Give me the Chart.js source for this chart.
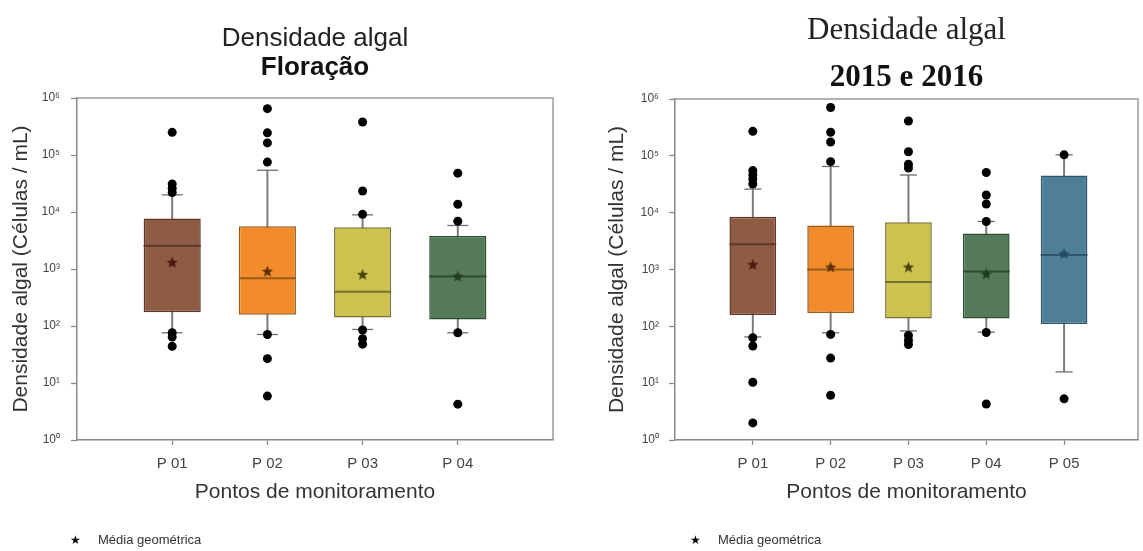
<!DOCTYPE html>
<html>
<head>
<meta charset="utf-8">
<script src="https://cdn.jsdelivr.net/npm/chart.js@4.4.0/dist/chart.umd.min.js"></script>
<style>
body{margin:0;background:#fff;width:1143px;height:551px;position:relative;overflow:hidden;font-family:'Liberation Sans',Arial,sans-serif;}
canvas{position:absolute;top:0;}
#grafFloracao{left:0;}
#grafAnual{left:570px;}
.leyenda{position:absolute;top:532px;font-size:13px;color:#333;white-space:nowrap;}
.leyenda b{display:inline-block;width:28px;font-size:12px;color:#000;font-weight:normal;}
</style>
</head>
<body>
<canvas id="grafFloracao" width="560" height="551"></canvas>
<canvas id="grafAnual" width="573" height="551"></canvas>
<div class="leyenda" style="left:70px"><b>★</b>Média geométrica</div>
<div class="leyenda" style="left:690px"><b>★</b>Média geométrica</div>
<script>
// Floração
var pontosFlor = ['P 01', 'P 02', 'P 03', 'P 04'];
var q1Flor = [175, 157, 141, 130];
var q3Flor = [7700, 5600, 5400, 3800];
var medFlor = [2560, 690, 400, 735];
var bigodeMinFlor = [76, 71, 87, 76];
var bigodeMaxFlor = [20000, 54000, 8900, 5800];
var geoFlor = [1310, 910, 800, 745];
var atipicosFlor = [
  [250000, 31000, 26000, 22000, 76, 64, 44],
  [650000, 245000, 163000, 75000, 71, 26.7, 5.9],
  [380000, 23400, 9100, 85, 60, 48],
  [48000, 13700, 6900, 76, 4.25]
];

// 2015 e 2016
var pontosAnual = ['P 01', 'P 02', 'P 03', 'P 04', 'P 05'];
var q1Anual = [158, 172, 138, 138, 110];
var q3Anual = [8500, 5970, 6800, 4300, 45000];
var medAnual = [2770, 1000, 605, 922, 1800];
var bigodeMinAnual = [65, 77, 83, 79, 15.8];
var bigodeMaxAnual = [26000, 65000, 46000, 7000, 104000];
var geoAnual = [1220, 1100, 1100, 835, 1900];
var atipicosAnual = [
  [270000, 55000, 46000, 39000, 32000, 63, 45, 10.4, 2.0],
  [710000, 260000, 175000, 79000, 72, 27.6, 6.1],
  [410000, 118000, 71000, 61000, 69, 57, 48],
  [51000, 20500, 14200, 7000, 78, 4.3],
  [104000, 5.3]
];

var potencias = [1, 10, 100, 1000, 10000, 100000, 1000000];
var sobrescritos = ['⁰', '¹', '²', '³', '⁴', '⁵', '⁶'];

var coresCaixa = ['#8e5b45', '#f28c2b', '#cdc24f', '#547a57', '#4f7f97'];
var coresBorda = ['#5e3728', '#9a5a1a', '#77712c', '#2f4c33', '#2f5568'];
var coresEstrela = ['#4a1a0e', '#5e3208', '#4e4610', '#1f3a22', '#234a66'];

var fonteSans = "'Liberation Sans', Arial, sans-serif";
var fonteSerif = "'Liberation Serif', 'Times New Roman', serif";

// estrela cheia de 5 pontas para a média geométrica
function criarEstrela(cor){
  var c = document.createElement('canvas');
  c.width = 13; c.height = 13;
  var g = c.getContext('2d');
  g.fillStyle = cor;
  g.beginPath();
  for (var i = 0; i < 10; i++) {
    var r = (i % 2 == 0) ? 6 : 2.6;
    var a = -Math.PI / 2 + i * Math.PI / 5;
    var px = 6.5 + Math.cos(a) * r, py = 6.8 + Math.sin(a) * r;
    if (i == 0) g.moveTo(px, py); else g.lineTo(px, py);
  }
  g.closePath();
  g.fill();
  return c;
}

// metade de uma largura em unidades do eixo x, em pixels
function meiaLargura(ctx, unidades){
  var x = ctx.chart.scales.x;
  return x.getPixelForValue(unidades) - x.getPixelForValue(0);
}

var marcoPlugin = {
  id: 'marco',
  afterDatasetsDraw: function(chart){
    var a = chart.chartArea, ctx = chart.ctx;
    ctx.save();
    ctx.strokeStyle = '#9a9a9a';
    ctx.lineWidth = 1.5;
    ctx.beginPath();
    ctx.moveTo(a.left, a.top);
    ctx.lineTo(a.right, a.top);
    ctx.lineTo(a.right, a.bottom);
    ctx.stroke();
    ctx.restore();
  }
};

function GraficoBoxplot(id, pontos, q1, q3, med, bMin, bMax, geo, atipicos, cfg){
  var n = pontos.length;
  var caixas = [], bigodes = [], tampas = [], medianas = [], medias = [], pontosAtip = [];
  for (var i = 0; i < n; i++) {
    caixas.push({x: i + 1, y: [q1[i], q3[i]]});
    bigodes.push({x: i + 1, y: [bMin[i], bMax[i]]});
    tampas.push({x: i + 1, y: bMin[i]});
    tampas.push({x: i + 1, y: bMax[i]});
    medianas.push({x: i + 1, y: med[i]});
    medias.push({x: i + 1, y: geo[i]});
    atipicos[i].forEach(function(v){ pontosAtip.push({x: i + 1, y: v}); });
  }

  var ctx = document.getElementById(id).getContext('2d');
  return new Chart(ctx, {
    type: 'bar',
    data: {
      datasets: [
        {
          label: 'bigodes', data: bigodes, backgroundColor: '#7a7a7a',
          barThickness: 1.3, grouped: false, order: 5
        },
        {
          label: 'caixas', data: caixas,
          backgroundColor: coresCaixa.slice(0, n), borderColor: coresBorda.slice(0, n),
          borderWidth: 1.5, borderSkipped: false,
          barPercentage: 0.6, categoryPercentage: 1, grouped: false, order: 4
        },
        {
          type: 'scatter', label: 'tampas', data: tampas,
          pointStyle: 'line', borderColor: '#6e6e6e', borderWidth: 1.3,
          radius: function(c){ return meiaLargura(c, 0.11); }, order: 3
        },
        {
          type: 'scatter', label: 'medianas', data: medianas,
          pointStyle: 'line', borderColor: coresBorda.slice(0, n), borderWidth: 2,
          radius: function(c){ return meiaLargura(c, 0.3); }, order: 2
        },
        {
          type: 'scatter', label: 'Média geométrica', data: medias,
          pointStyle: coresEstrela.slice(0, n).map(criarEstrela), order: 1
        },
        {
          type: 'scatter', label: 'atípicos', data: pontosAtip,
          pointStyle: 'circle', radius: 4.5, backgroundColor: '#000', borderWidth: 0, order: 0
        }
      ]
    },
    options: {
      responsive: false,
      animation: false,
      events: [],
      layout: {padding: cfg.padding},
      plugins: {
        legend: {display: false},
        tooltip: {enabled: false},
        title: {
          display: true, text: cfg.titulo, fullSize: false, color: '#222',
          font: {family: cfg.fonteTitulo, size: cfg.tamTitulo, weight: 'normal', lineHeight: 1},
          padding: cfg.padTitulo
        },
        subtitle: {
          display: true, text: cfg.subtitulo, fullSize: false, color: '#111',
          font: {family: cfg.fonteTitulo, size: cfg.tamTitulo, weight: 'bold', lineHeight: 1},
          padding: cfg.padSubtitulo
        }
      },
      scales: {
        x: {
          type: 'linear', min: 0, max: cfg.xMax, offset: false,
          afterBuildTicks: function(s){ s.ticks = pontos.map(function(p, i){ return {value: i + 1}; }); },
          afterFit: function(s){ s.height = 65; },
          ticks: {
            color: '#444', padding: 10, font: {family: fonteSans, size: 15},
            callback: function(v){ return pontos[v - 1]; }
          },
          grid: {offset: false, drawOnChartArea: false, tickLength: 5, color: '#8a8a8a', tickWidth: 1.3},
          border: {display: true, color: '#8a8a8a', width: 1.5},
          title: {
            display: true, text: 'Pontos de monitoramento', color: '#333',
            font: {family: fonteSans, size: 21, lineHeight: 1.2}, padding: 0
          }
        },
        y: {
          type: 'logarithmic', min: 1, max: 1000000,
          afterBuildTicks: function(s){ s.ticks = potencias.map(function(v){ return {value: v}; }); },
          afterFit: function(s){ s.width = cfg.largY; },
          ticks: {
            color: '#444', padding: cfg.padTickY, font: {family: fonteSans, size: 12},
            callback: function(v){ return '10' + sobrescritos[Math.round(Math.log10(v))]; }
          },
          grid: {drawOnChartArea: false, tickLength: 6, color: '#8a8a8a', tickWidth: 1.3},
          border: {display: true, color: '#8a8a8a', width: 1.5},
          title: {
            display: true, text: 'Densidade algal (Células / mL)', color: '#333',
            font: {family: fonteSans, size: 21, lineHeight: 1.2}, padding: 0
          }
        }
      }
    },
    plugins: [marcoPlugin]
  });
}

GraficoBoxplot('grafFloracao', pontosFlor, q1Flor, q3Flor, medFlor, bigodeMinFlor, bigodeMaxFlor, geoFlor, atipicosFlor, {
  titulo: 'Densidade algal', subtitulo: 'Floração', fonteTitulo: fonteSans, tamTitulo: 26,
  padTitulo: {top: 26, bottom: 0}, padSubtitulo: {top: 3, bottom: 17},
  padding: {left: 9, right: 7, top: 0, bottom: 46}, largY: 68, padTickY: 11, xMax: 5
});

GraficoBoxplot('grafAnual', pontosAnual, q1Anual, q3Anual, medAnual, bigodeMinAnual, bigodeMaxAnual, geoAnual, atipicosAnual, {
  titulo: 'Densidade algal', subtitulo: '2015 e 2016', fonteTitulo: fonteSerif, tamTitulo: 31,
  padTitulo: {top: 15, bottom: 0}, padSubtitulo: {top: 16, bottom: 6},
  padding: {left: 35, right: 3, top: 0, bottom: 46}, largY: 70, padTickY: 10, xMax: 5.95
});
</script>
</body>
</html>
